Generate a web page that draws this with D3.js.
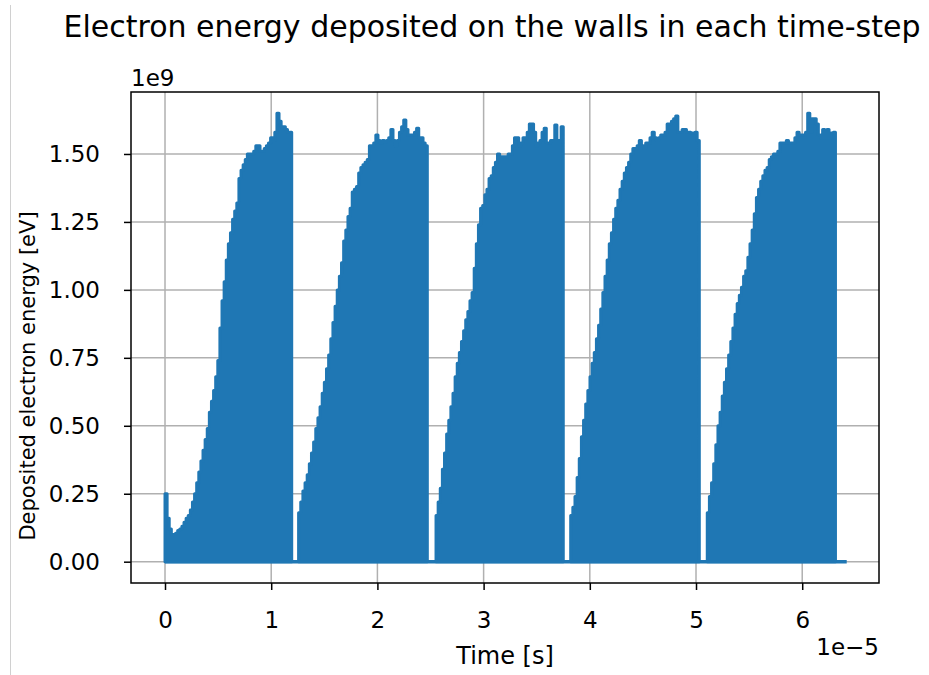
<!DOCTYPE html>
<html>
<head>
<meta charset="utf-8">
<script src="https://cdn.jsdelivr.net/npm/d3@7"></script>
<style>
  body { margin: 0; background: #fff; }
  text { font-family: "DejaVu Sans", sans-serif; fill: #000; }
</style>
</head>
<body>
<svg id="chart" width="929" height="675"></svg>
<script>
// Time in units of 1e-5 s, deposited energy in units of 1e9 eV.
const pulseStart = [0.000, 1.258, 2.552, 3.820, 5.106];
const pulseEnd   = [1.193, 2.470, 3.750, 5.031, 6.313];

// Per-step energy deposited during each discharge pulse
const pulse1 = [0.25, 0.16, 0.12, 0.10, 0.10, 0.105, 0.115, 0.12, 0.13, 0.145,
                0.16, 0.17, 0.19, 0.22, 0.25, 0.29, 0.33, 0.37, 0.41, 0.45,
                0.49, 0.55, 0.59, 0.63, 0.68, 0.74, 0.86, 0.96, 1.03, 1.11,
                1.17, 1.21, 1.26, 1.29, 1.32, 1.41, 1.44, 1.46, 1.48, 1.50,
                1.50, 1.50, 1.51, 1.53, 1.53, 1.51, 1.51, 1.52, 1.53, 1.54,
                1.56, 1.55, 1.58, 1.65, 1.62, 1.60, 1.60, 1.59, 1.58, 1.58];
const pulse2 = [0.18, 0.22, 0.26, 0.29, 0.32, 0.36, 0.40, 0.44, 0.49, 0.53,
                0.57, 0.62, 0.66, 0.71, 0.76, 0.82, 0.88, 0.94, 1.00, 1.05,
                1.10, 1.18, 1.22, 1.27, 1.30, 1.36, 1.37, 1.38, 1.43, 1.45,
                1.46, 1.47, 1.48, 1.53, 1.53, 1.54, 1.57, 1.55, 1.54, 1.55,
                1.545, 1.55, 1.56, 1.59, 1.55, 1.53, 1.55, 1.58, 1.60, 1.625,
                1.59, 1.57, 1.57, 1.57, 1.58, 1.595, 1.56, 1.56, 1.54, 1.53];
const pulse3 = [0.17, 0.22, 0.27, 0.34, 0.40, 0.47, 0.52, 0.57, 0.62, 0.68,
                0.73, 0.77, 0.81, 0.85, 0.89, 0.92, 0.96, 0.99, 1.08, 1.17,
                1.24, 1.30, 1.31, 1.35, 1.37, 1.41, 1.42, 1.45, 1.47, 1.50,
                1.49, 1.49, 1.49, 1.49, 1.50, 1.50, 1.53, 1.56, 1.56, 1.53,
                1.54, 1.56, 1.56, 1.58, 1.61, 1.61, 1.58, 1.53, 1.54, 1.55,
                1.58, 1.595, 1.54, 1.54, 1.55, 1.55, 1.607, 1.55, 1.55, 1.60];
const pulse4 = [0.17, 0.20, 0.24, 0.31, 0.38, 0.46, 0.52, 0.58, 0.63, 0.68,
                0.73, 0.77, 0.82, 0.87, 0.93, 0.99, 1.05, 1.11, 1.17, 1.21,
                1.26, 1.30, 1.33, 1.37, 1.40, 1.43, 1.45, 1.47, 1.50, 1.52,
                1.52, 1.53, 1.55, 1.53, 1.52, 1.54, 1.54, 1.56, 1.58, 1.56,
                1.55, 1.56, 1.57, 1.57, 1.58, 1.61, 1.61, 1.62, 1.63, 1.64,
                1.58, 1.58, 1.59, 1.59, 1.58, 1.58, 1.577, 1.577, 1.58, 1.55];
const pulse5 = [0.18, 0.24, 0.29, 0.36, 0.43, 0.50, 0.55, 0.61, 0.66, 0.71,
                0.76, 0.81, 0.86, 0.91, 0.95, 0.98, 1.01, 1.05, 1.07, 1.12,
                1.17, 1.22, 1.28, 1.34, 1.37, 1.40, 1.42, 1.44, 1.45, 1.48,
                1.49, 1.50, 1.50, 1.51, 1.54, 1.54, 1.54, 1.55, 1.54, 1.54,
                1.54, 1.56, 1.58, 1.57, 1.57, 1.57, 1.58, 1.65, 1.58, 1.63,
                1.63, 1.61, 1.57, 1.56, 1.59, 1.56, 1.59, 1.56, 1.577, 1.58];
const pulses = [pulse1, pulse2, pulse3, pulse4, pulse5];

// Record runs on at zero deposition until this time
const recordEnd = 6.419;

const xTicks = [0, 1, 2, 3, 4, 5, 6];
const yTicks = [0.00, 0.25, 0.50, 0.75, 1.00, 1.25, 1.50];
const xDomain = [-0.3202, 6.723];
const yDomain = [-0.0784, 1.728];

const titleText = "Electron energy deposited on the walls in each time-step";
const xLabelText = "Time [s]";
const yLabelText = "Deposited electron energy [eV]";
const xOffsetText = "1e\u22125";
const yOffsetText = "1e9";

const plot = { left: 131, right: 879, top: 92, bottom: 583 };
const blue = "#1f77b4";

const svg = d3.select("#chart");

// thin page edge on the left
svg.append("line")
  .attr("x1", 10.5).attr("x2", 10.5).attr("y1", 5).attr("y2", 675)
  .attr("stroke", "#d0d0d0").attr("stroke-width", 1);

const x = d3.scaleLinear().domain(xDomain).range([plot.left, plot.right]);
const y = d3.scaleLinear().domain(yDomain).range([plot.bottom, plot.top]);

// grid (below the data)
const grid = svg.append("g");
grid.selectAll("line.vx").data(xTicks).join("line")
  .attr("x1", d => x(d)).attr("x2", d => x(d))
  .attr("y1", plot.top).attr("y2", plot.bottom)
  .attr("stroke", "#b0b0b0").attr("stroke-width", 1.5);
grid.selectAll("line.hy").data(yTicks).join("line")
  .attr("x1", plot.left).attr("x2", plot.right)
  .attr("y1", d => y(d)).attr("y2", d => y(d))
  .attr("stroke", "#b0b0b0").attr("stroke-width", 1.5);

svg.append("clipPath").attr("id", "clip")
  .append("rect")
  .attr("x", plot.left).attr("y", plot.top)
  .attr("width", plot.right - plot.left).attr("height", plot.bottom - plot.top);

const dataG = svg.append("g").attr("clip-path", "url(#clip)");

// zero-deposition record across the whole run
dataG.append("path")
  .attr("d", d3.line().x(d => x(d[0])).y(d => y(d[1]))([[0, 0], [recordEnd, 0]]))
  .attr("fill", "none").attr("stroke", blue).attr("stroke-width", 3.5)
  .attr("stroke-linecap", "butt");

const area = d3.area()
  .curve(d3.curveStepAfter)
  .x(d => x(d[0])).y0(y(0)).y1(d => y(d[1]));

pulses.forEach((vals, k) => {
  const t0 = pulseStart[k], t1 = pulseEnd[k];
  const step = (t1 - t0) / vals.length;
  const pts = vals.map((v, i) => [t0 + i * step, v]);
  pts.push([t1, vals[vals.length - 1]]);
  dataG.append("path")
    .attr("d", area(pts))
    .attr("fill", blue).attr("stroke", blue)
    .attr("stroke-width", 3).attr("stroke-linejoin", "round");
});

// axes
const fontTick = 23;
const yAxis = d3.axisLeft(y).tickValues(yTicks).tickSize(7).tickPadding(24)
  .tickFormat(d3.format(".2f"));
const xAxis = d3.axisBottom(x).tickValues(xTicks).tickSize(7).tickPadding(22)
  .tickFormat(d3.format("d"));

const gy = svg.append("g").attr("transform", `translate(${plot.left},0)`).call(yAxis);
const gx = svg.append("g").attr("transform", `translate(0,${plot.bottom})`).call(xAxis);
[gx, gy].forEach(g => {
  g.select(".domain").remove();
  g.selectAll(".tick line").attr("stroke", "#000").attr("stroke-width", 1.5);
  g.selectAll(".tick text").attr("font-size", fontTick)
    .attr("font-family", "DejaVu Sans").attr("fill", "#000");
});

// frame
svg.append("rect")
  .attr("x", plot.left).attr("y", plot.top)
  .attr("width", plot.right - plot.left).attr("height", plot.bottom - plot.top)
  .attr("fill", "none").attr("stroke", "#000").attr("stroke-width", 1.5);

// offset labels
svg.append("text").attr("x", plot.left).attr("y", 86)
  .attr("font-size", fontTick).text(yOffsetText);
svg.append("text").attr("x", plot.right).attr("y", 655)
  .attr("text-anchor", "end").attr("font-size", fontTick).text(xOffsetText);

// axis labels and title
svg.append("text").attr("x", 505).attr("y", 664)
  .attr("text-anchor", "middle").attr("font-size", 24).text(xLabelText);
svg.append("text")
  .attr("transform", `translate(35,376) rotate(-90)`)
  .attr("text-anchor", "middle").attr("font-size", 21).text(yLabelText);
svg.append("text").attr("x", 492).attr("y", 37)
  .attr("text-anchor", "middle").attr("font-size", 30).text(titleText);
</script>
</body>
</html>
